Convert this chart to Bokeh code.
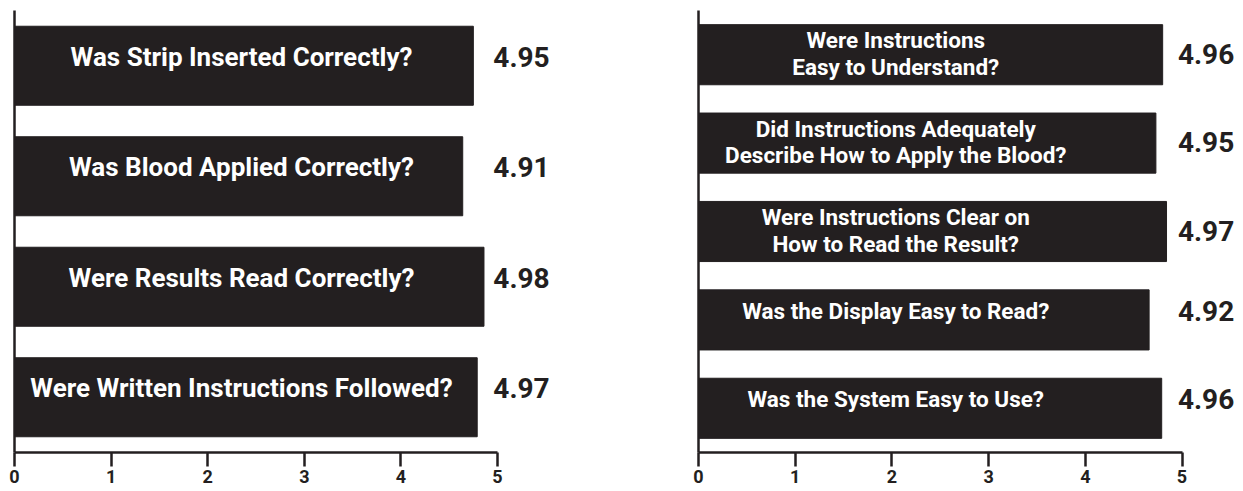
from bokeh.plotting import figure
from bokeh.layouts import row
from bokeh.models import Range1d, FixedTicker, ColumnDataSource
from bokeh.core.properties import value
from bokeh.embed import file_html
from bokeh.resources import INLINE

# ---- data ----
left_questions = [
    "Was Strip Inserted Correctly?",
    "Was Blood Applied Correctly?",
    "Were Results Read Correctly?",
    "Were Written Instructions Followed?",
]
left_scores = [4.95, 4.91, 4.98, 4.97]
left_bar_lengths = [4.75, 4.64, 4.86, 4.79]

right_questions = [
    "Were Instructions\nEasy to Understand?",
    "Did Instructions Adequately\nDescribe How to Apply the Blood?",
    "Were Instructions Clear on\nHow to Read the Result?",
    "Was the Display Easy to Read?",
    "Was the System Easy to Use?",
]
right_scores = [4.96, 4.95, 4.97, 4.92, 4.96]
right_bar_lengths = [4.80, 4.73, 4.84, 4.66, 4.79]

x_ticks = [0, 1, 2, 3, 4, 5]

INK = "#231f20"


def make_panel(questions, scores, lengths, border_left, frame_w, x_end, label_x,
               bar_frac, label_size, line_height):
    n = len(questions)
    src = ColumnDataSource(dict(
        q=questions,
        pos=[n - 0.5 - i for i in range(n)],  # first question at the top
        score=[f"{s:.2f}" for s in scores],
        length=lengths,
        label_x=[label_x] * n,
        value_x=[5.54] * n,
        dy=[-1 if "\n" in q else -9 for q in questions],
    ))
    p = figure(frame_width=frame_w, frame_height=442,
               x_range=Range1d(0, x_end), y_range=Range1d(0, n),
               output_backend="svg", toolbar_location=None,
               min_border_left=border_left, min_border_right=0,
               min_border_top=10, min_border_bottom=0)
    p.hbar(y="pos", left=0, right="length", height=bar_frac, color=INK, source=src)
    p.text(x="label_x", y="pos", text="q", y_offset="dy", source=src,
           text_align="center", text_baseline="middle", text_color="white",
           text_font=value("Roboto"), text_font_style="bold",
           text_font_size=label_size, text_line_height=line_height)
    p.text(x="value_x", y="pos", text="score", y_offset="dy", source=src,
           text_align="right", text_baseline="middle", text_color=INK,
           text_font=value("Roboto"), text_font_style="bold", text_font_size="28px")

    p.grid.visible = False
    p.outline_line_color = None
    p.background_fill_color = "white"
    p.border_fill_color = "white"

    xa = p.xaxis[0]
    xa.ticker = FixedTicker(ticks=x_ticks)
    xa.bounds = (0, 5)
    xa.axis_line_color = INK
    xa.axis_line_width = 2.5
    xa.major_tick_line_color = INK
    xa.major_tick_line_width = 2.5
    xa.major_tick_out = 14
    xa.major_tick_in = 0
    xa.minor_tick_out = 0
    xa.minor_tick_in = 0
    xa.major_label_standoff = 3
    xa.major_label_text_font = "Roboto"
    xa.major_label_text_font_style = "bold"
    xa.major_label_text_font_size = "18px"
    xa.major_label_text_color = INK

    # plain vertical axis line, no ticks or labels
    ya = p.yaxis[0]
    ya.ticker = FixedTicker(ticks=[])
    ya.axis_line_color = INK
    ya.axis_line_width = 2.5
    ya.major_tick_line_color = None
    ya.minor_tick_line_color = None
    ya.major_tick_out = 0
    ya.minor_tick_out = 0
    ya.major_label_standoff = 0
    return p


left = make_panel(left_questions, left_scores, left_bar_lengths,
                  border_left=14, frame_w=584, x_end=584 / 96.6, label_x=2.35,
                  bar_frac=0.715, label_size="26px", line_height=1.0)
right = make_panel(right_questions, right_scores, right_bar_lengths,
                   border_left=100, frame_w=540, x_end=540 / 96.7, label_x=2.04,
                   bar_frac=0.68, label_size="22.5px", line_height=1.02)

layout = row(left, right)
open("out.html", "w").write(file_html(layout, INLINE))
